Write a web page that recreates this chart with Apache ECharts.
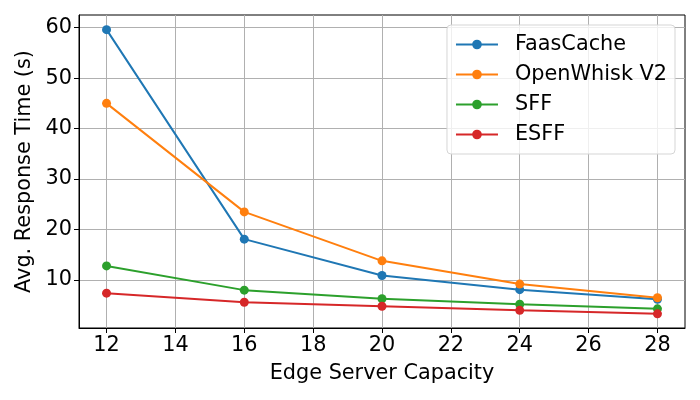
<!DOCTYPE html>
<html><head><meta charset="utf-8">
<script src="https://cdn.jsdelivr.net/npm/echarts@6/dist/echarts.min.js"></script>
<style>html,body{margin:0;padding:0;background:#fff}#c{width:700px;height:400px}</style>
</head><body><div id="c"></div>
<script>
const capacities = [12, 16, 20, 24, 28];
const faasCache = [59.6, 18.1, 10.9, 8.1, 6.2];
const openWhiskV2 = [45.0, 23.5, 13.8, 9.2, 6.5];
const sff = [12.8, 8.0, 6.3, 5.2, 4.3];
const esff = [7.4, 5.6, 4.8, 4.0, 3.3];
const xTicks = [12, 14, 16, 18, 20, 22, 24, 26, 28];
const yTicks = [10, 20, 30, 40, 50, 60];
const names = ['FaasCache', 'OpenWhisk V2', 'SFF', 'ESFF'];
const colors = ['#1f77b4', '#ff7f0e', '#2ca02c', '#d62728'];
const seriesData = [faasCache, openWhiskV2, sff, esff];
const font = 'DejaVu Sans';
const fs = 20.8;
const chart = echarts.init(document.getElementById('c'), null, {renderer: 'canvas'});
chart.setOption({
  animation: false,
  textStyle: {fontFamily: font},
  grid: {left: 79, right: 15, top: 15, bottom: 72, show: true, borderColor: '#000', borderWidth: 1, containLabel: false},
  xAxis: {
    type: 'value', min: 11.2, max: 28.8,
    name: 'Edge Server Capacity', nameLocation: 'middle', nameGap: 35,
    nameTextStyle: {fontSize: fs, color: '#000', fontFamily: font},
    axisLine: {show: true, lineStyle: {color: '#000', width: 1}},
    axisTick: {show: true, length: 5, lineStyle: {color: '#000'}, customValues: xTicks},
    axisLabel: {fontSize: fs, color: '#000', margin: 7, customValues: xTicks, fontFamily: font},
    splitLine: {show: true, lineStyle: {color: '#b0b0b0', width: 1}}
  },
  yAxis: {
    type: 'value', min: 0.5, max: 62.5,
    name: 'Avg. Response Time (s)', nameLocation: 'middle', nameGap: 43,
    nameTextStyle: {fontSize: fs, color: '#000', fontFamily: font},
    axisLine: {show: true, lineStyle: {color: '#000', width: 1}},
    axisTick: {show: true, length: 5, lineStyle: {color: '#000'}, customValues: yTicks},
    axisLabel: {fontSize: fs, color: '#000', margin: 7, customValues: yTicks, fontFamily: font},
    splitLine: {show: true, lineStyle: {color: '#b0b0b0', width: 1}}
  },
  legend: {
    orient: 'vertical', right: 25, top: 25,
    backgroundColor: 'rgba(255,255,255,0.8)', borderColor: '#d5d5d5', borderWidth: 1, borderRadius: 4,
    padding: [9, 8, 9, 8], itemGap: 9, itemWidth: 42, itemHeight: 12,
    textStyle: {fontSize: fs, color: '#000', fontFamily: font, padding: [0, 0, 0, 12]},
    data: names
  },
  series: names.map((n, i) => ({
    name: n, type: 'line',
    data: capacities.map((c, j) => [c, seriesData[i][j]]),
    symbol: 'circle', symbolSize: 9,
    lineStyle: {color: colors[i], width: 2},
    itemStyle: {color: colors[i]},
    z: 2 + i
  }))
});
</script></body></html>
